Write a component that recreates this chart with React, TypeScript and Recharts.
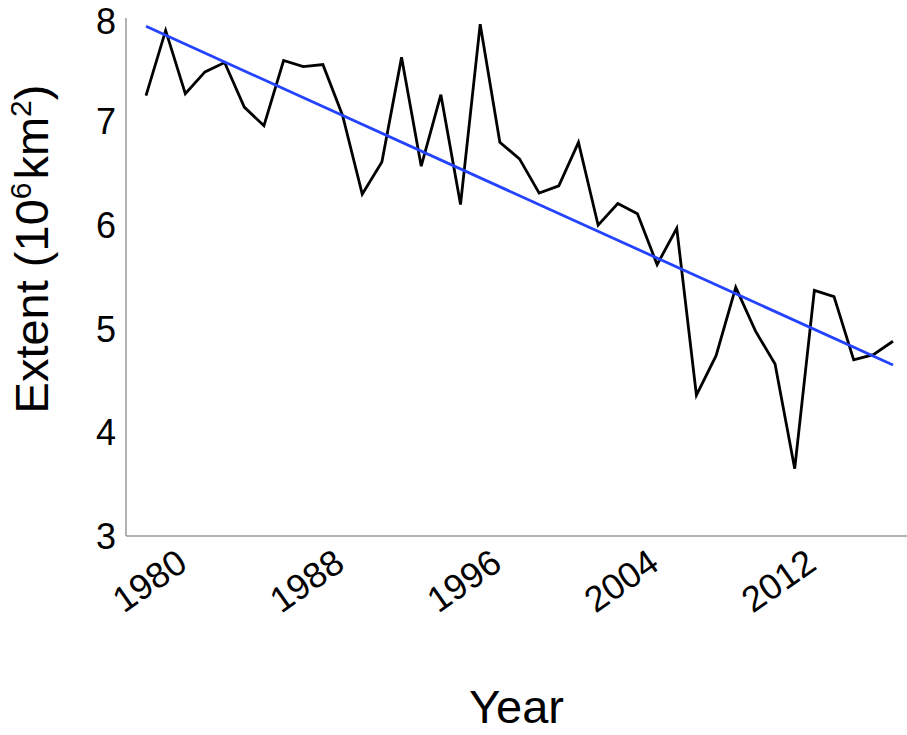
import { LineChart, Line, XAxis, YAxis, Label } from "recharts";

const years = [
  1979, 1980, 1981, 1982, 1983, 1984, 1985, 1986, 1987, 1988, 1989, 1990, 1991,
  1992, 1993, 1994, 1995, 1996, 1997, 1998, 1999, 2000, 2001, 2002, 2003, 2004,
  2005, 2006, 2007, 2008, 2009, 2010, 2011, 2012, 2013, 2014, 2015, 2016, 2017,
];

const extent = [
  7.25, 7.88, 7.27, 7.48, 7.57, 7.14, 6.96, 7.59, 7.53, 7.55, 7.06, 6.3, 6.61,
  7.62, 6.57, 7.26, 6.2, 7.94, 6.8, 6.64, 6.31, 6.38, 6.8, 6.0, 6.21, 6.11,
  5.62, 5.97, 4.36, 4.74, 5.4, 4.98, 4.66, 3.65, 5.37, 5.31, 4.7, 4.75, 4.88,
];

// fitted trend, read at the two ends
const trendStart = 7.92;
const trendEnd = 4.65;

const xTicks = [1980, 1988, 1996, 2004, 2012];
const yTicks = [3, 4, 5, 6, 7, 8];

const data = years.map((year, i) => ({
  year,
  extent: extent[i],
  trend: i === 0 ? trendStart : i === years.length - 1 ? trendEnd : null,
}));

const font = "'Liberation Sans', Arial, sans-serif";

const YLabel = () => (
  <text
    x={0}
    y={0}
    transform="translate(48, 249) rotate(-90)"
    textAnchor="middle"
    fontFamily={font}
    fontSize={47}
    fill="#000"
  >
    Extent (10
    <tspan dy={-17} fontSize={30}>6</tspan>
    <tspan dy={17} dx={3}>km</tspan>
    <tspan dy={-17} fontSize={30}>2</tspan>
    <tspan dy={17}>)</tspan>
  </text>
);

const App = () => {
  return (
    <div style={{ position: "absolute", left: 0, top: 0, background: "#fff" }}>
      <LineChart
        width={907}
        height={735}
        data={data}
        margin={{ top: 18, right: 0, bottom: 0, left: 0 }}
      >
        <XAxis
          dataKey="year"
          type="number"
          domain={[1979, 2017]}
          ticks={xTicks}
          padding={{ left: 20, right: 14 }}
          height={199}
          tickLine={false}
          axisLine={{ stroke: "#9a9a9a", strokeWidth: 1.5 }}
          angle={-35}
          textAnchor="end"
          dx={9}
          dy={3}
          tick={{ fill: "#000", fontSize: 36, fontFamily: font }}
        >
          <Label
            value="Year"
            position="insideBottom"
            offset={12}
            fill="#000"
            fontSize={47}
            fontFamily={font}
          />
        </XAxis>
        <YAxis
          domain={[3, 8]}
          ticks={yTicks}
          width={126}
          tickLine={false}
          tickMargin={4}
          axisLine={{ stroke: "#9a9a9a", strokeWidth: 1.5 }}
          tick={{ fill: "#000", fontSize: 36, fontFamily: font }}
        >
          <Label content={<YLabel />} />
        </YAxis>
        <Line
          dataKey="extent"
          stroke="#000"
          strokeWidth={2.8}
          dot={false}
          isAnimationActive={false}
        />
        <Line
          dataKey="trend"
          stroke="#2343ff"
          strokeWidth={2.8}
          dot={false}
          connectNulls
          isAnimationActive={false}
        />
      </LineChart>
    </div>
  );
};

export default App;
